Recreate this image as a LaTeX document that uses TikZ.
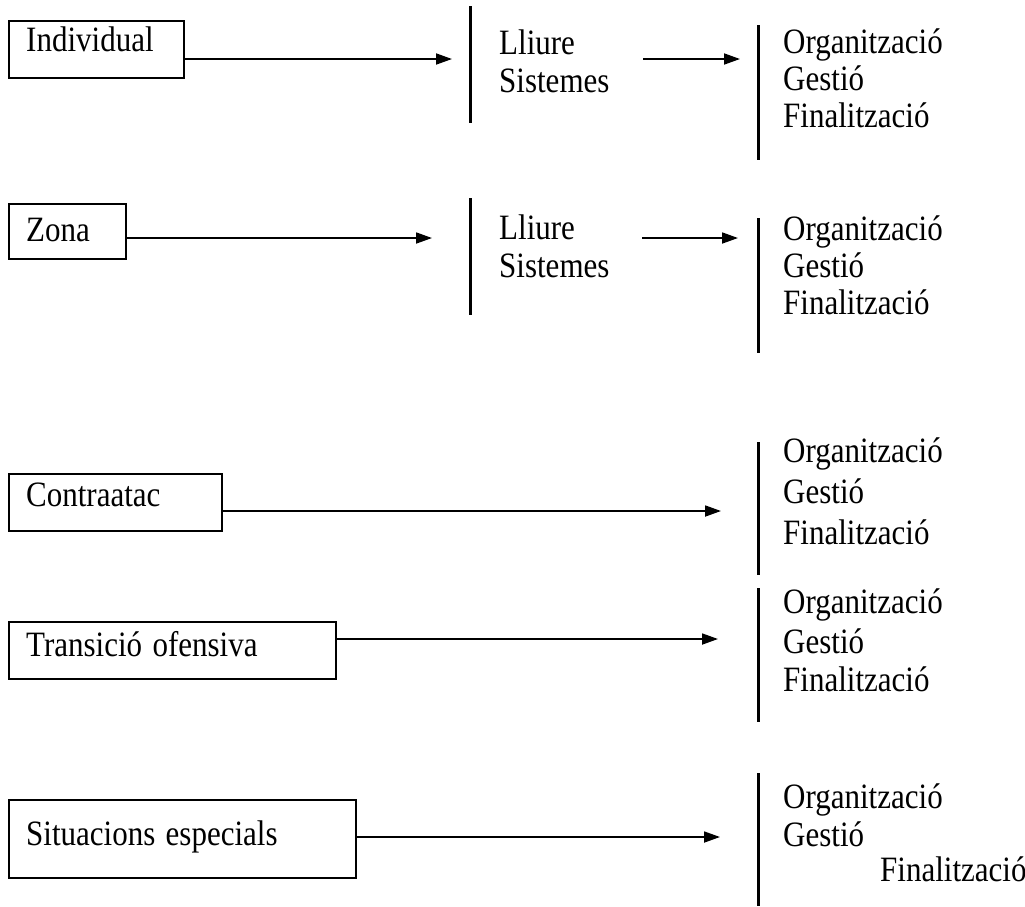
\documentclass[tikz,border=0pt]{standalone}
\usepackage{fontspec}
\usepackage{graphicx}
\setmainfont{Liberation Serif}
\usetikzlibrary{arrows.meta}
\newcommand{\tallword}[1]{\scalebox{1}[1.15]{#1}}

\begin{document}
\begin{tikzpicture}[x=1pt, y=-1pt,
        font=\fontsize{31}{37}\selectfont,
        box/.style={draw, line width=2.4pt, anchor=north west, inner ysep=0pt, inner xsep=17pt, align=left},
        txt/.style={anchor=base west, inner sep=0pt},
        bar/.style={line width=3pt},
        arr/.style={line width=1.8pt, -{Triangle[length=16pt, width=11pt]}}]
        \useasboundingbox (0,0) rectangle (1025,906);

        % Boxes
        \node[box, text width=141pt, text height=30pt, text depth=27pt] (indiv) at (8,20) {\tallword{Individual}};
        \node[box, text width=83pt, text height=37pt, text depth=18pt] (zona) at (8,203) {\tallword{Zona}};
        \node[box, text width=179pt, text height=32pt, text depth=25pt] (contra) at (8,473) {\tallword{Contraatac}};
        \node[box, text width=293pt, text height=34pt, text depth=23pt] (trans) at (8,621) {\tallword{Transició ofensiva}};
        \node[box, text width=313pt, text height=45pt, text depth=33pt] (situ) at (8,799) {\tallword{Situacions especials}};

        % Lists
        \node[txt] (lli1) at (499,54) {\tallword{Lliure}};
        \node[txt] (sis1) at (499,92) {\tallword{Sistemes}};
        \node[txt] (org1) at (783,53) {\tallword{Organització}};
        \node[txt] (ges1) at (783,90) {\tallword{Gestió}};
        \node[txt] (fin1) at (783,127) {\tallword{Finalització}};

        \node[txt] (lli2) at (499,239) {\tallword{Lliure}};
        \node[txt] (sis2) at (499,277) {\tallword{Sistemes}};
        \node[txt] (org2) at (783,240) {\tallword{Organització}};
        \node[txt] (ges2) at (783,277) {\tallword{Gestió}};
        \node[txt] (fin2) at (783,314) {\tallword{Finalització}};

        \node[txt] (org3) at (783,462) {\tallword{Organització}};
        \node[txt] (ges3) at (783,503) {\tallword{Gestió}};
        \node[txt] (fin3) at (783,544) {\tallword{Finalització}};

        \node[txt] (org4) at (783,613) {\tallword{Organització}};
        \node[txt] (ges4) at (783,653) {\tallword{Gestió}};
        \node[txt] (fin4) at (783,691) {\tallword{Finalització}};

        \node[txt] (org5) at (783,808) {\tallword{Organització}};
        \node[txt] (ges5) at (783,846) {\tallword{Gestió}};
        \node[txt] (fin5) at (880,881) {\tallword{Finalització}};

        % Bars
        \draw[bar] (470,6) -- (470,123);
        \draw[bar] (758,25) -- (758,160);
        \draw[bar] (470,198) -- (470,315);
        \draw[bar] (758,218) -- (758,353);
        \draw[bar] (758,442) -- (758,575);
        \draw[bar] (758,588) -- (758,722);
        \draw[bar] (758,773) -- (758,906);

        % Arrow ends
        \coordinate (t1) at (452,59);
        \coordinate (s1) at (643,59);
        \coordinate (u1) at (740,59);
        \coordinate (t2) at (432,238);
        \coordinate (s2) at (642,238);
        \coordinate (u2) at (738,238);
        \coordinate (t3) at (721,511);
        \coordinate (t4) at (718,639);
        \coordinate (t5) at (720,837);

        % Arrows
        \draw[arr] (indiv.east |- t1) -- (t1);
        \draw[arr] (s1) -- (u1);
        \draw[arr] (zona.east |- t2) -- (t2);
        \draw[arr] (s2) -- (u2);
        \draw[arr] (contra.east |- t3) -- (t3);
        \draw[arr] (trans.east |- t4) -- (t4);
        \draw[arr] (situ.east |- t5) -- (t5);
\end{tikzpicture}
\end{document}
